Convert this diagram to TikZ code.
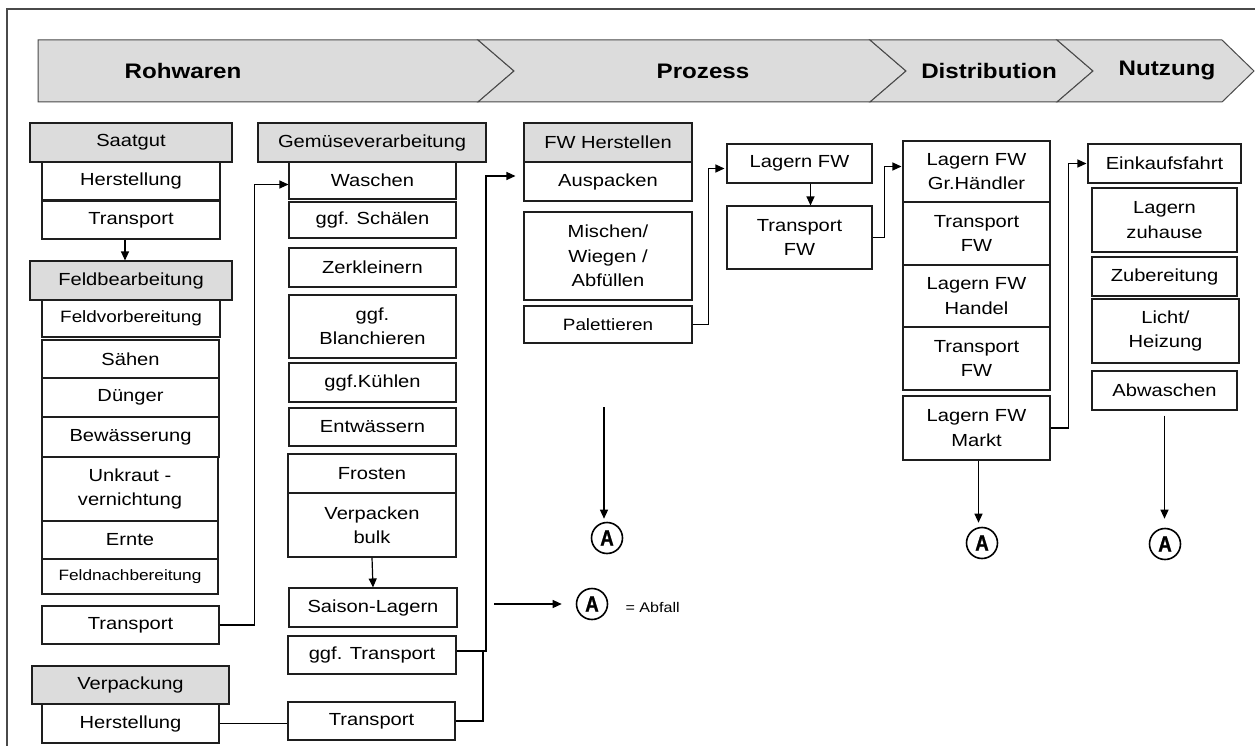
\documentclass[tikz,border=0pt]{standalone}
\usepackage{fontspec}
\setmainfont{Liberation Sans}[FakeStretch=1.15]
\newfontfamily\afont{Liberation Sans}[UprightFont={* Bold}, FakeStretch=0.85, FakeBold=1.2]
\usetikzlibrary{arrows.meta,calc}

\definecolor{hdrgray}{HTML}{DCDCDC}
\definecolor{edgec}{HTML}{1E1E1E}
\definecolor{framec}{HTML}{4A4A4A}

\tikzset{
 box/.style={draw=edgec, line width=1.1pt, fill=white, inner sep=0pt, align=center, font=\fontsize{17.5}{24.5}\selectfont},
 hdr/.style={box, fill=hdrgray},
 conn/.style={draw=black, line width=1.2pt},
 arr/.style={conn, -{Triangle[length=9pt,width=8pt]}},
 abfc/.style={circle, draw=black, line width=1.6pt, minimum size=31pt, inner sep=0pt, font=\afont\fontsize{22}{22}\selectfont},
 bantext/.style={font=\bfseries\fontsize{21}{21}\selectfont},
 band/.style={fill=hdrgray, draw=framec, line width=1pt, line join=miter},
 framel/.style={draw=framec, line width=1.5pt},
}

\newcommand\bx[7][box]{\node[#1, minimum width={(#5)-(#3)}, minimum height={(#6)-(#4)}] (#2) at ({((#3)+(#5))/2},{((#4)+(#6))/2}) {#7};}

\begin{document}
\begin{tikzpicture}[x=1pt,y=-1pt]
\useasboundingbox (0,0) rectangle (1255,746);
\clip (0,0) rectangle (1255,746);
\fill[white] (0,0) rectangle (1255,746);

% frame
\draw[framel] (7,760) -- (7,9) -- (1270,9);

% banner
\draw[band] (38,40) -- (478,40) -- (514,71) -- (478,102) -- (38,102) -- cycle;
\draw[band] (478,40) -- (870,40) -- (906,71) -- (870,102) -- (478,102) -- (514,71) -- cycle;
\draw[band] (870,40) -- (1057,40) -- (1093,71) -- (1057,102) -- (870,102) -- (906,71) -- cycle;
\draw[band] (1057,40) -- (1222,40) -- (1254,71) -- (1222,102) -- (1057,102) -- (1093,71) -- cycle;
\node[bantext] (bRoh) at (183,71) {Rohwaren};
\node[bantext] (bPro) at (703,71) {Prozess};
\node[bantext] (bDis) at (989,71) {Distribution};
\node[bantext] (bNut) at (1167,71) {Nutzung};

% column 1
\bx[hdr]{saat}{30}{123}{232}{162}{Saatgut}
\bx{h1}{42}{162}{220}{200}{Herstellung}
\bx{t1}{42}{201}{220}{239}{Transport}
\bx[hdr]{feld}{30}{261}{232}{300}{Feldbearbeitung}
\bx{fv}{42}{300}{220}{337}{\fontsize{16.4}{20}\selectfont Feldvorbereitung}
\bx{sae}{42}{340}{219}{378}{Sähen}
\bx{due}{42}{378}{219}{417}{Dünger}
\bx{bew}{42}{417}{219}{457}{Bewässerung}
\bx{unk}{42}{457}{218}{521}{Unkraut -\\vernichtung}
\bx{ern}{42}{521}{218}{559}{Ernte}
\bx{fn}{42}{559}{218}{594}{\fontsize{15}{18}\selectfont Feldnachbereitung}
\bx{t2}{42}{606}{219}{644}{Transport}
\bx[hdr]{verp}{32}{666}{229}{704}{Verpackung}
\bx{h2}{42}{704}{219}{743}{Herstellung}

% column 2
\bx[hdr]{gem}{258}{123}{486}{162}{Gemüseverarbeitung}
\bx{wasch}{289}{162}{456}{199}{Waschen}
\bx{schael}{289}{202}{456}{238}{ggf. Schälen}
\bx{zerk}{289}{248}{456}{287}{Zerkleinern}
\bx{blanch}{289}{295}{456}{358}{ggf.\\Blanchieren}
\bx{kuehl}{289}{363}{456}{402}{ggf.Kühlen}
\bx{entw}{289}{408}{456}{446}{Entwässern}
\bx{frost}{288}{454}{456}{493}{Frosten}
\bx{vb}{288}{493}{456}{557}{Verpacken\\bulk}
\bx{sl}{289}{588}{457}{627}{Saison-Lagern}
\bx{ggft}{288}{636}{456}{674}{ggf. Transport}
\bx{t3}{288}{702}{455}{740}{Transport}

% column 3
\bx[hdr]{fwh}{524}{123}{692}{162}{FW Herstellen}
\bx{ausp}{524}{162}{692}{201}{Auspacken}
\bx{misch}{524}{212}{692}{300}{Mischen/\\Wiegen /\\Abfüllen}
\bx{pal}{524}{306}{692}{343}{\fontsize{16.4}{20}\selectfont Palettieren}

% column 4
\bx{lfw}{727}{144}{872}{183}{Lagern FW}
\bx{tfw}{727}{206}{872}{269}{Transport\\FW}

% column 5
\bx{gh}{903}{141}{1050}{202}{Lagern FW\\Gr.Händler}
\bx{tfw2}{903}{202}{1050}{265}{Transport\\FW}
\bx{hand}{903}{265}{1050}{327}{Lagern FW\\Handel}
\bx{tfw3}{903}{327}{1050}{390}{Transport\\FW}
\bx{markt}{903}{396}{1050}{460}{Lagern FW\\Markt}

% column 6
\bx{eink}{1088}{144}{1241}{183}{Einkaufsfahrt}
\bx{lzh}{1092}{188}{1237}{252}{Lagern\\zuhause}
\bx{zub}{1092}{257}{1237}{296}{Zubereitung}
\bx{licht}{1092}{299}{1239}{363}{Licht/\\Heizung}
\bx{absch}{1092}{371}{1237}{410}{Abwaschen}

% waste circles
\node[abfc] (a1) at (607,538) {A};
\node[abfc] (a2) at (982,543) {A};
\node[abfc] (a3) at (1165,544) {A};
\node[abfc] (al) at (592,604) {A};
\node[anchor=west, font=\fontsize{14}{16}\selectfont] (abftxt) at (622,607) {= Abfall};

% connectors
\draw[arr] ($(t1.south)+(-6,0)$) -- ($(feld.north)+(-6,0)$);
\draw[arr] (t2.east) -- ++(35,0) |- ($(wasch.west)+(0,4)$);
\draw[conn] (h2.east) -- (t3.west |- h2.east);
\draw[arr] (vb.south) -- (sl.north);
\coordinate (j1) at (486,651);
\draw[arr, shorten >=8pt] ($(ggft.east)+(0,-4)$) -- (j1) |- ($(ausp.west)+(0,-5.5)$);
\draw[conn] (t3.east) -| ($(j1)+(-3,0)$);
\draw[arr, shorten >=2pt] (pal.east) -- ++(16,0) |- ($(lfw.west)+(0,5)$);
\draw[arr] ($(lfw.south)+(11,0)$) -- ($(tfw.north)+(11,0)$);
\draw[arr, shorten >=1pt] (tfw.east) -- ++(12,0) |- ($(gh.west)+(0,-5)$);
\draw[arr, shorten >=1pt] (markt.east) -- ++(18,0) |- (eink.west);
\coordinate (pz) at (604,407);
\draw[arr, shorten >=3pt] (pz) -- (pz |- a1.north);
\draw[arr, shorten >=4pt] ($(markt.south)+(2,0)$) -- ($(markt.south |- a2.north)+(2,0)$);
\draw[arr, shorten >=9pt] ($(absch.south)+(0,5)$) -- (absch.south |- a3.north);
\coordinate (lg) at (494,604);
\draw[arr, shorten >=14pt] (lg) -- (al.west);
\end{tikzpicture}
\end{document}
